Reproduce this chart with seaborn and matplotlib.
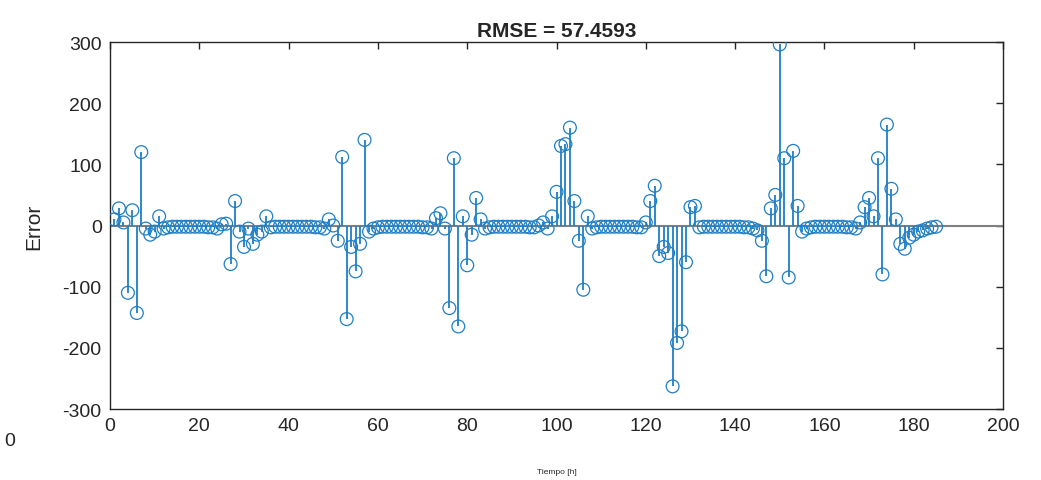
import numpy as np
import pandas as pd
import matplotlib
matplotlib.use("Agg")
import matplotlib.pyplot as plt
import seaborn as sns

# error per time step
err = [10, 28, 5, -110, 25, -143, 120, -5, -15, -10,
       15, -5, -3, -2, -2, -2, -2, -2, -2, -2,
       -2, -3, -3, -5, 2, 3, -63, 40, -10, -35,
       -5, -30, -15, -10, 15, -3, -2, -2, -2, -2,
       -2, -2, -2, -2, -2, -3, -3, -5, 10, 0,
       -25, 112, -153, -35, -75, -30, 140, -10, -5, -3,
       -2, -2, -2, -2, -2, -2, -2, -2, -2, -3,
       -3, -5, 12, 20, -5, -135, 110, -165, 15, -65,
       -15, 45, 10, -5, -3, -2, -2, -2, -2, -2,
       -2, -2, -2, -3, -3, 0, 5, -5, 15, 55,
       130, 133, 160, 40, -25, -105, 15, -5, -3, -2,
       -2, -2, -2, -2, -2, -2, -2, -3, -3, 5,
       40, 65, -50, -35, -45, -263, -192, -173, -60, 30,
       32, -3, -2, -2, -2, -2, -2, -2, -2, -2,
       -2, -3, -3, -5, -8, -25, -83, 28, 50, 296,
       110, -85, 122, 32, -10, -5, -3, -2, -2, -2,
       -2, -2, -2, -2, -3, -3, -5, 5, 30, 45,
       15, 110, -80, 165, 60, 10, -30, -38, -20, -15,
       -10, -8, -5, -3, -2]
t = list(range(1, len(err) + 1))
rmse_title = "RMSE = 57.4593"

df = pd.DataFrame({"t": t, "err": err})

sns.set_style("white")
plt.rcParams["font.family"] = ["Liberation Sans", "DejaVu Sans"]
plt.rcParams["axes.unicode_minus"] = False

blue = "#1f7fc6"
fig = plt.figure(figsize=(10.41, 4.81), dpi=100)
ax = fig.add_axes([0.1057, 0.1476, 0.8578, 0.763])

ax.axhline(0, color="#808080", lw=1.5, zorder=1)
ax.vlines(df["t"], 0, df["err"], color=blue, lw=1.3, zorder=2)
sns.scatterplot(data=df, x="t", y="err", ax=ax, marker="o", s=85,
                facecolors="none", edgecolor=blue, linewidth=0.9, zorder=3)

ax.set_xlim(0, 200)
ax.set_ylim(-300, 300)
ax.set_xticks(range(0, 201, 20))
ax.set_yticks(range(-300, 301, 100))
ax.tick_params(direction="in", length=5, width=1, colors="#262626",
               top=True, right=True, labelsize=14, pad=6)
for s in ax.spines.values():
    s.set_color("#262626")
    s.set_linewidth(1)

ax.set_title(rmse_title, fontsize=15, fontweight="bold", pad=4)
ax.set_ylabel("Error", fontsize=15, labelpad=14)
ax.set_xlabel("Tiempo [h]", fontsize=6, labelpad=24)
fig.text(0.004, 0.072, "0", fontsize=14, color="#262626")

fig.savefig("out.png", dpi=100)
